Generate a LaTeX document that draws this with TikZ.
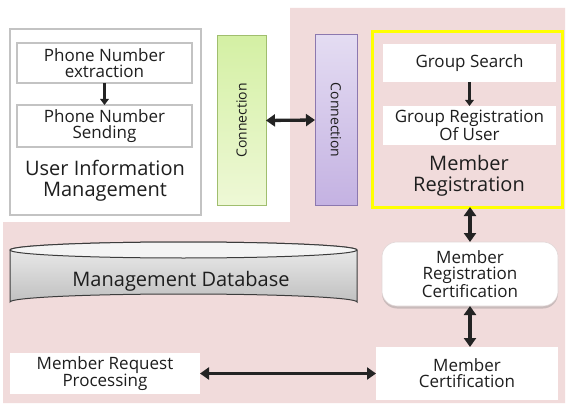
\documentclass[tikz,border=0pt]{standalone}
\usepackage{fontspec}
\setmainfont{Open Sans}
\usetikzlibrary{arrows.meta,shadows}
\definecolor{pinkbg}{RGB}{241,219,219}
\definecolor{txt}{RGB}{30,30,30}
\definecolor{grayline}{RGB}{195,195,195}
\definecolor{greentop}{RGB}{212,240,164}
\definecolor{greenbot}{RGB}{238,248,214}
\definecolor{greenline}{RGB}{160,190,110}
\definecolor{purptop}{RGB}{228,220,242}
\definecolor{purpbot}{RGB}{196,178,226}
\definecolor{purpline}{RGB}{140,120,175}
\definecolor{arrowc}{RGB}{35,35,35}
\definecolor{yellowline}{RGB}{255,255,0}
\definecolor{mrcline}{RGB}{225,215,215}
\definecolor{dbtop}{RGB}{238,238,238}
\definecolor{dbbot}{RGB}{192,192,192}
\definecolor{dbline}{RGB}{60,60,60}
\definecolor{dbcap}{RGB}{244,244,244}
\tikzset{
  boxtext/.style={font=\fontsize{17}{16}\selectfont, text=txt, align=center},
  graybox/.style={boxtext, draw=grayline, line width=1.5pt, fill=white, inner sep=0pt, outer sep=0pt},
  plainbox/.style={boxtext, fill=white, inner sep=0pt, outer sep=0pt},
  biglabel/.style={font=\fontsize{20}{21.5}\selectfont, text=txt, align=center},
  connbox/.style={font=\fontsize{14}{16}\selectfont, text=txt, inner sep=0pt, outer sep=0pt, line width=1pt},
  thickarrow/.style={draw=arrowc, line width=3.3pt, {Triangle[length=9pt,width=12pt]}-{Triangle[length=9pt,width=12pt]}},
  downarrow/.style={draw=arrowc, line width=2.5pt, -{Triangle[length=6pt,width=8.5pt]}},
}
\begin{document}
\begin{tikzpicture}[x=1pt,y=-1pt]
\useasboundingbox (0,0) rectangle (567,406);
\fill[white] (0,0) rectangle (567,406);
% pink background region
\fill[pinkbg] (290,8) -- (565,8) -- (565,403) -- (3,403) -- (3,222) -- (290,222) -- cycle;

% user information management
\node[draw=grayline, line width=2pt, fill=white, minimum width=191pt, minimum height=186pt, inner sep=0pt, outer sep=0pt] (uim) at (105.5,122) {};
\node[graybox, minimum width=175pt, minimum height=40pt] (pne) at (104.5,63) {Phone Number\\extraction};
\node[graybox, minimum width=175pt, minimum height=42pt] (pns) at (104.5,126) {Phone Number\\Sending};
\node[biglabel] (uiml) at (105,181) {User Information\\Management};
\draw[downarrow] (pne) -- (pns);

% connections
\node[connbox, draw=greenline, top color=greentop, bottom color=greenbot, minimum width=49pt, minimum height=169pt] (c1) at (241.5,120.5) {};
\node[connbox, rotate=90] (c1t) at (c1.center) {Connection};
\node[connbox, draw=purpline, top color=purptop, bottom color=purpbot, minimum width=42pt, minimum height=170pt] (c2) at (336,120) {};
\node[connbox, rotate=-90] (c2t) at (c2.center) {Connection};
\draw[thickarrow] (c1.east) -- (c2.west);

% member registration
\node[draw=yellowline, line width=3pt, minimum width=190pt, minimum height=175pt, inner sep=0pt, outer sep=0pt] (mr) at (467,119.5) {};
\node[plainbox, minimum width=173pt, minimum height=38pt] (gs) at (469.5,63) {Group Search};
\node[plainbox, minimum width=173pt, minimum height=39pt] (gr) at (469.5,125.5) {Group Registration\\Of User};
\node[biglabel] (mrl) at (469,176) {Member\\Registration};
\draw[downarrow] (gs) -- (gr);

% member registration certification
\node[plainbox, rounded corners=15pt, draw=mrcline, line width=0.6pt, drop shadow={shadow xshift=0pt, shadow yshift=-2.5pt, opacity=0.35}, minimum width=176pt, minimum height=64pt] (mrc) at (470,274) {Member\\Registration\\Certification};
\node[plainbox, minimum width=182pt, minimum height=53pt] (mc) at (467,373.5) {Member\\Certification};
\node[plainbox, minimum width=190pt, minimum height=41pt] (mrp) at (105,373.5) {Member Request\\Processing};

\draw[thickarrow] (mr.south -| mrc.north) -- (mrc.north);
\draw[thickarrow] (mrc.south) -- (mc.north -| mrc.south);
\draw[thickarrow] (mrp.east) -- (mc.west |- mrp.east);

% database cylinder
\shade[top color=dbtop, bottom color=dbbot, draw=dbline, line width=1pt]
  (10,250) -- (10,302) arc[start angle=180, end angle=0, x radius=173.5pt, y radius=8pt] -- (357,250)
  arc[start angle=0, end angle=180, x radius=173.5pt, y radius=8pt] -- cycle;
\fill[dbcap, draw=dbline, line width=1pt] (183.5,250) ellipse[x radius=173.5pt, y radius=8pt];
\node[biglabel] (db) at (181,281) {Management Database};
\end{tikzpicture}
\end{document}
